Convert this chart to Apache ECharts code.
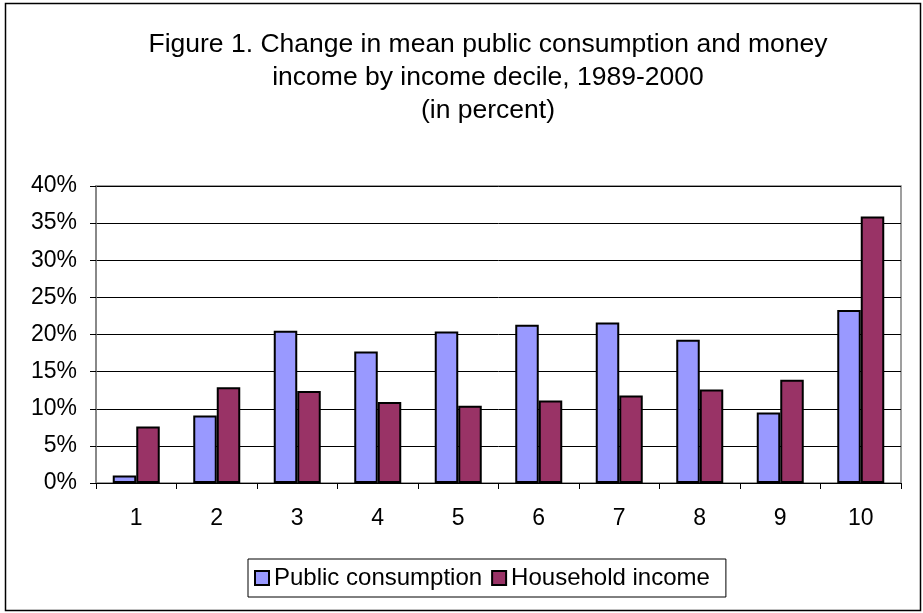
<!DOCTYPE html>
<html><head><meta charset="utf-8">
<script src="https://cdn.jsdelivr.net/npm/echarts@6/dist/echarts.min.js"></script>
<style>html,body{margin:0;padding:0;background:#fff}#c{width:923px;height:613px}</style>
</head><body><div id="c"></div>
<script>
const categories = ['1','2','3','4','5','6','7','8','9','10'];
const publicConsumption = [1.0, 9.1, 20.5, 17.7, 20.4, 21.3, 21.6, 19.3, 9.5, 23.3];
const householdIncome = [7.6, 12.9, 12.4, 10.9, 10.4, 11.1, 11.8, 12.6, 13.9, 35.9];
const yTicks = [0, 5, 10, 15, 20, 25, 30, 35, 40];
const titleText = 'Figure 1. Change in mean public consumption and money\nincome by income decile, 1989-2000\n(in percent)';

const chart = echarts.init(document.getElementById('c'), null, {renderer: 'canvas'});
const font = 'Arial, "Liberation Sans", sans-serif';
chart.setOption({
  animation: false,
  backgroundColor: '#fff',
  graphic: [{
    type: 'rect', shape: {x: 5.5, y: 3.5, width: 915, height: 607},
    style: {fill: 'none', stroke: '#000', lineWidth: 1.5}, silent: true, z: -1
  }, {
    type: 'text', x: 488, y: 28, silent: true,
    style: {text: titleText, align: 'center', verticalAlign: 'top', fill: '#000',
      fontFamily: font, fontSize: 26.5, lineHeight: 33}
  }],
  legend: {
    left: 248, top: 559, itemWidth: 14, itemHeight: 14, itemGap: 9,
    padding: [7, 16, 7, 6],
    borderColor: '#000', borderWidth: 1,
    textStyle: {fontFamily: font, fontSize: 24, color: '#000'},
    data: [
      {name: 'Public consumption', icon: 'rect', itemStyle: {color: '#9999FF', borderColor: '#000', borderWidth: 2}},
      {name: 'Household income', icon: 'rect', itemStyle: {color: '#993366', borderColor: '#000', borderWidth: 2}}
    ]
  },
  grid: {left: 96, top: 186, right: 22, bottom: 130, show: true, borderColor: '#808080', borderWidth: 1.5},
  xAxis: {
    type: 'category', data: categories,
    axisLine: {lineStyle: {color: '#000', width: 1}},
    axisTick: {show: true, length: 6, lineStyle: {color: '#000'}, alignWithLabel: false},
    axisLabel: {fontFamily: font, fontSize: 23, color: '#000', margin: 24}
  },
  yAxis: {
    type: 'value', min: 0, max: 40, interval: 5,
    axisLine: {show: true, lineStyle: {color: '#808080', width: 1.5}},
    axisTick: {show: true, length: 6, lineStyle: {color: '#000'}},
    splitLine: {lineStyle: {color: '#000', width: 1}},
    axisLabel: {fontFamily: font, fontSize: 23, color: '#000', margin: 19,
      formatter: v => yTicks.includes(v) ? v + '%' : ''}
  },
  series: [
    {name: 'Public consumption', type: 'bar', data: publicConsumption, barWidth: 23.5, barGap: '0%',
      itemStyle: {color: '#9999FF', borderColor: '#000', borderWidth: 2}},
    {name: 'Household income', type: 'bar', data: householdIncome, barWidth: 23.5, barGap: '0%',
      itemStyle: {color: '#993366', borderColor: '#000', borderWidth: 2}}
  ]
});
</script></body></html>
